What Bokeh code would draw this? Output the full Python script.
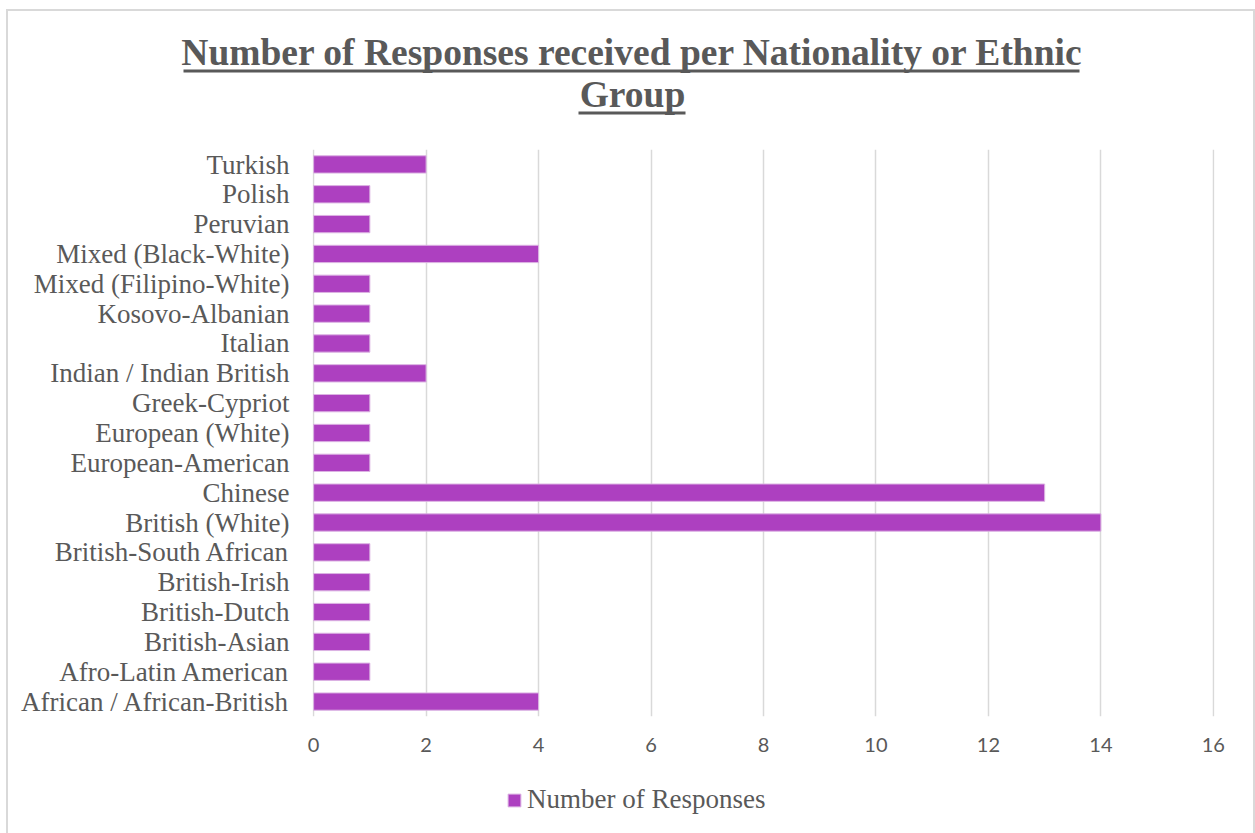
from bokeh.plotting import figure
from bokeh.layouts import column
from bokeh.models import (FactorRange, Range1d, SingleIntervalTicker,
                          Legend, LegendItem, ColumnDataSource)
from bokeh.core.properties import value
from bokeh.embed import file_html
from bokeh.resources import INLINE

categories = [
    "African / African-British", "Afro-Latin American", "British-Asian",
    "British-Dutch", "British-Irish", "British-South African",
    "British (White)", "Chinese", "European-American", "European (White)",
    "Greek-Cypriot", "Indian / Indian British", "Italian", "Kosovo-Albanian",
    "Mixed (Filipino-White)", "Mixed (Black-White)", "Peruvian", "Polish",
    "Turkish",
]
responses = [4, 1, 1, 1, 1, 1, 14, 13, 1, 1, 1, 2, 1, 1, 1, 4, 1, 1, 2]
series_name = "Number of Responses"
title_lines = ["Number of Responses received per Nationality or Ethnic", "Group"]

GREY = "#595959"
BAR = "#AD40C0"
EDGE = "#dcb3e3"
W = 1245

src = ColumnDataSource(dict(cat=categories, val=responses))

# ---------- title strip ----------
TH = 138
pt = figure(width=W, height=TH, output_backend="svg", toolbar_location=None,
            x_range=Range1d(0, W), y_range=Range1d(0, TH),
            min_border=0, x_axis_type=None, y_axis_type=None,
            frame_align=False)
pt.outline_line_color = None
pt.grid.visible = False
pt.text(x=[624, 624], y=[97, 55], text=title_lines,
        text_align="center", text_baseline="alphabetic",
        text_font=value("Liberation Serif"), text_font_style="bold",
        text_font_size="37.5px", text_color=GREY)
pt.segment(x0=[175, 570], x1=[1071, 677], y0=[78.5, 36.5], y1=[78.5, 36.5],
           line_color=GREY, line_width=2.8)

# ---------- main chart ----------
p = figure(width=W, height=611, output_backend="svg", toolbar_location=None,
           y_range=FactorRange(factors=categories, range_padding=0),
           x_range=Range1d(-0.02, 16.02),
           min_border_left=304, min_border_right=39,
           min_border_top=0, min_border_bottom=44, frame_align=False)
p.outline_line_color = None

p.hbar(y="cat", right="val", left=0, height=0.58, source=src,
       fill_color=BAR, line_color=EDGE, line_width=1)

p.xaxis.ticker = SingleIntervalTicker(interval=2)
p.xaxis.axis_line_color = None
p.xaxis.major_tick_line_color = None
p.xaxis.minor_tick_line_color = None
p.xaxis.major_label_text_font = "Lato"
p.xaxis.major_label_text_font_size = "20px"
p.xaxis.major_label_text_color = GREY
p.xaxis.major_label_standoff = 15

p.yaxis.axis_line_color = None
p.yaxis.major_tick_line_color = None
p.yaxis.minor_tick_line_color = None
p.yaxis.major_label_text_font = "Liberation Serif"
p.yaxis.major_label_text_font_size = "27px"
p.yaxis.major_label_text_color = GREY
p.yaxis.major_label_standoff = 17

p.ygrid.grid_line_color = None
p.xgrid.ticker = SingleIntervalTicker(interval=2)
p.xgrid.grid_line_color = "#d9d9d9"
p.xgrid.grid_line_width = 1.5

# ---------- legend strip ----------
LH = 73
pl = figure(width=W, height=LH, output_backend="svg", toolbar_location=None,
            x_range=Range1d(0, W), y_range=FactorRange(factors=categories),
            min_border=0, x_axis_type=None, y_axis_type=None,
            frame_align=False)
pl.outline_line_color = None
pl.grid.visible = False
ghost = pl.hbar(y="cat", right="val", left=0, height=0.58, source=src,
                fill_color=BAR, line_color=EDGE, line_width=1, visible=False)
legend = Legend(items=[LegendItem(label=series_name, renderers=[ghost])],
                location=(498, 18), orientation="horizontal",
                glyph_width=16, glyph_height=16, label_standoff=5,
                padding=0, margin=0, border_line_color=None,
                background_fill_alpha=0,
                label_text_font="Liberation Serif", label_text_font_size="27px",
                label_text_color=GREY)
pl.add_layout(legend, "center")

layout = column(pt, p, pl, spacing=0)
layout.margin = (9, 0, 0, 6)
layout.styles = {"border-top": "2px solid #d9d9d9", "border-left": "2px solid #d9d9d9",
                 "border-right": "2px solid #d9d9d9"}

open("out.html", "w").write(file_html(layout, INLINE))
